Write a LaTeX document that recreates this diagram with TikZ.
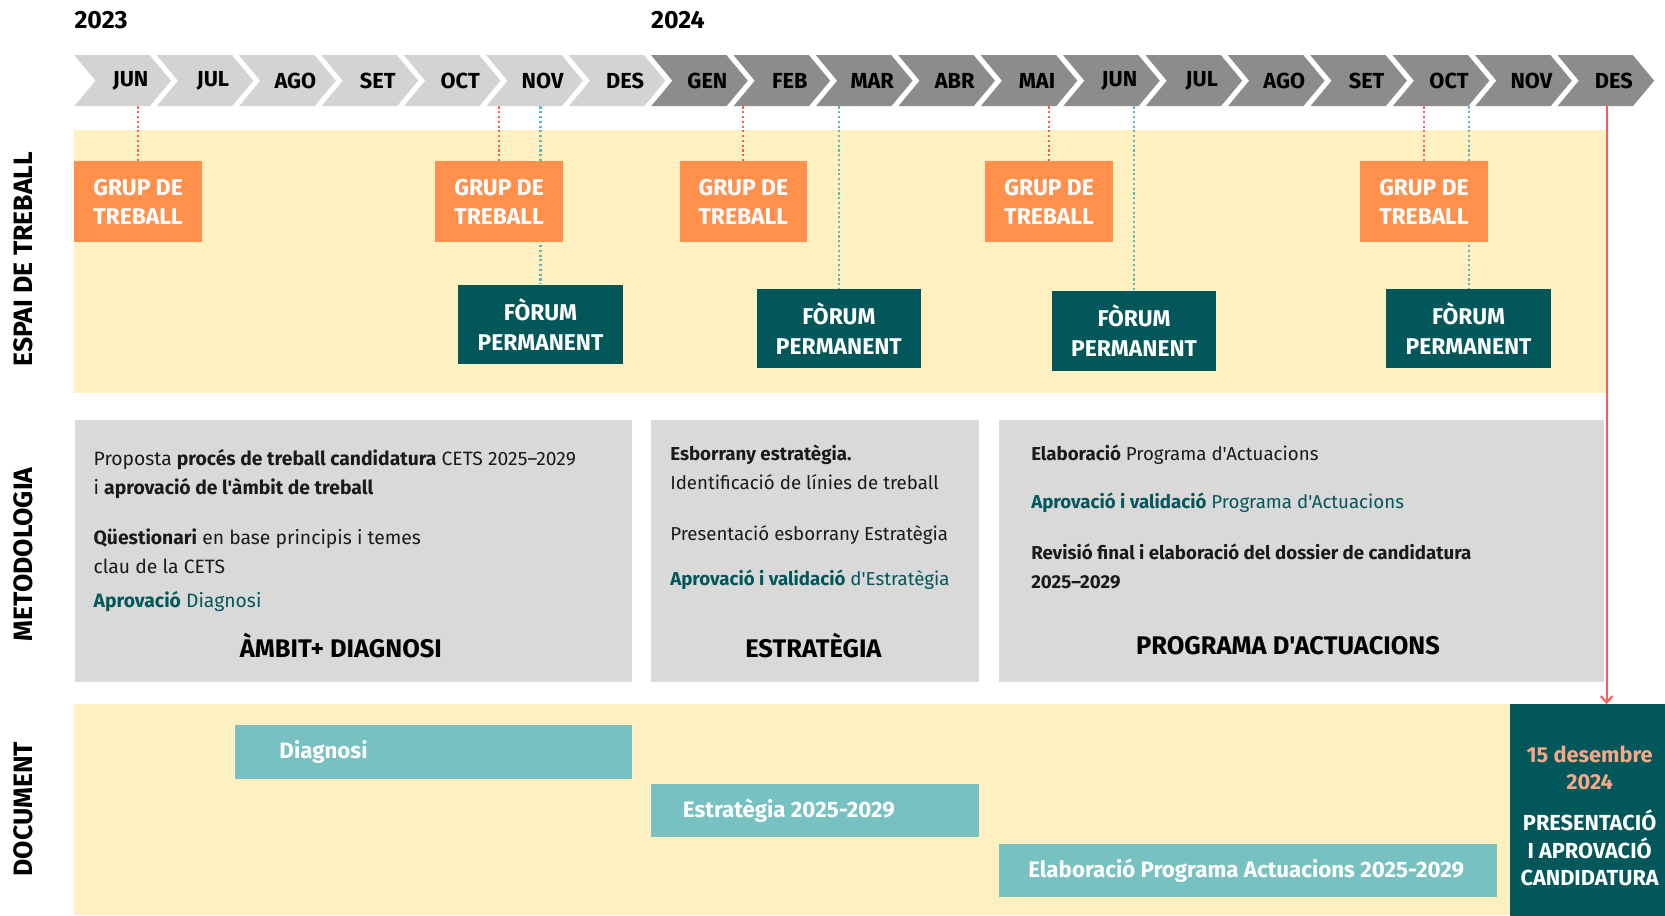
\documentclass[tikz,border=0pt]{standalone}
\usepackage{fontspec}
\setmainfont{Fira Sans}[Ligatures=TeXOff]
\usetikzlibrary{arrows.meta}
\definecolor{chevlight}{HTML}{D3D3D3}
\definecolor{chevdark}{HTML}{8C8C8C}
\definecolor{orangec}{HTML}{FF914D}
\definecolor{tealdark}{HTML}{02575A}
\definecolor{teallight}{HTML}{78C1C3}
\definecolor{yellowc}{HTML}{FEF0C0}
\definecolor{greybox}{HTML}{D9D9D9}
\definecolor{redc}{HTML}{FF5A5A}
\definecolor{tealdot}{HTML}{5CB8BE}
\definecolor{salmon}{HTML}{F7A887}
\definecolor{textdark}{HTML}{1A1A1A}
\pgfdeclarelayer{back}
\pgfdeclarelayer{lines}
\pgfsetlayers{back,lines,main}
\begin{document}
\begin{tikzpicture}[x=1pt,y=-1pt,
  year/.style={font=\fontsize{23.5}{24}\selectfont\bfseries, text=black, inner sep=0, anchor=west},
  month/.style={font=\fontsize{20.5}{21}\selectfont\bfseries, text=black, minimum height=48pt, inner sep=0},
  grup/.style={fill=orangec, text=white, font=\fontsize{21.5}{27}\selectfont\bfseries, minimum width=120pt, minimum height=76pt, align=center, inner sep=0},
  forum/.style={fill=tealdark, text=white, font=\fontsize{21.5}{28}\selectfont\bfseries, minimum width=155pt, minimum height=75pt, align=center, inner sep=0},
  metbox/.style={fill=greybox, anchor=north west, minimum height=247pt, inner sep=0},
  body/.style={anchor=base west, font=\fontsize{17.6}{20}\selectfont, text=textdark, inner sep=0},
  bodyA/.style={body, font=\fontsize{18.2}{20}\selectfont},
  tbody/.style={body, text=tealdark},
  mtitle/.style={font=\fontsize{24}{25}\selectfont\bfseries, text=black, inner sep=0},
  docbox/.style={fill=teallight, anchor=north west, minimum height=50pt, inner sep=0},
  doctext/.style={font=\fontsize{21}{22}\selectfont\bfseries, text=white, inner sep=0},
  side/.style={rotate=90, font=\fontsize{25}{26}\selectfont\bfseries, text=black, inner sep=0},
  fintext/.style={font=\fontsize{20.5}{26}\selectfont\bfseries, align=center, inner sep=0},
  reddot/.style={draw=redc, line width=2pt, dash pattern=on 2pt off 2.5pt},
  tdot/.style={draw=tealdot, line width=2pt, dash pattern=on 2pt off 2.5pt},
  redline/.style={draw=redc, line width=2pt, -{Straight Barb[length=6pt,width=11pt,line width=2pt]}}
]
\useasboundingbox (0,0) rectangle (1568,862);

% years
\node[year] (y23) at (70,19) {2023};
\node[year] (y24) at (613,19) {2024};

% chevrons
\foreach \m [count=\i from 0] in {JUN,JUL,AGO,SET,OCT,NOV,DES,GEN,FEB,MAR,ABR,MAI,JUN,JUL,AGO,SET,OCT,NOV,DES}{
  \pgfmathsetmacro{\L}{70+77.6*\i}
  \ifnum\i<7 \def\cc{chevlight}\else\def\cc{chevdark}\fi
  \fill[\cc] (\L,52) -- ++(71,0) -- ++(20,24) -- ++(-20,24) -- ++(-71,0) -- ++(20,-24) -- cycle;
  \node[month] (m\i) at (\L+53,76) {\m};
}

% bands
\begin{pgfonlayer}{back}
\fill[yellowc] (70,122) rectangle (1512,370);
\fill[yellowc] (70,663) rectangle (1422,862);
\end{pgfonlayer}

% side labels
\node[side] (s1) at (22,244) {ESPAI DE TREBALL};
\node[side] (s2) at (22,522) {METODOLOGIA};
\node[side] (s3) at (22,762) {DOCUMENT};

% grup de treball
\node[grup] (g1) at (130,190) {GRUP DE\\TREBALL};
\node[grup] (g2) at (470,190) {GRUP DE\\TREBALL};
\node[grup] (g3) at (700,190) {GRUP DE\\TREBALL};
\node[grup] (g4) at (988,190) {GRUP DE\\TREBALL};
\node[grup] (g5) at (1341,190) {GRUP DE\\TREBALL};

% forum permanent
\node[forum] (f1) at (509,305.5) {FÒRUM\\PERMANENT};
\node[forum] (f2) at (790,309.5) {FÒRUM\\PERMANENT};
\node[forum] (f3) at (1068,311.5) {FÒRUM\\PERMANENT};
\node[forum] (f4) at (1383,309.5) {FÒRUM\\PERMANENT};

% connectors
\begin{pgfonlayer}{lines}
\draw[reddot] (g1.north |- m0.south) -- (g1.north);
\draw[reddot] (g2.north |- m4.south) -- (g2.north);
\draw[reddot] (g3.north |- m7.south) -- (g3.north);
\draw[reddot] (g4.north |- m11.south) -- (g4.north);
\draw[reddot] (g5.north |- m16.south) -- (g5.north);
\draw[tdot] (f1.north |- m5.south) -- (f1.north);
\draw[tdot] (f2.north |- m9.south) -- (f2.north);
\draw[tdot] (f3.north |- m12.south) -- (f3.north);
\draw[tdot] (f4.north |- m16.south) -- (f4.north);
\end{pgfonlayer}

% metodologia
\node[metbox, minimum width=525pt] (mb1) at (70,395) {};
\node[metbox, minimum width=309pt] (mb2) at (613,395) {};
\node[metbox, minimum width=569pt] (mb3) at (941,395) {};

\node[bodyA] (t11) at (88,438) {Proposta \textbf{procés de treball candidatura} CETS 2025–2029};
\node[bodyA] (t12) at (88,466) {i \textbf{aprovació de l'àmbit de treball}};
\node[bodyA] (t13) at (88,513) {\textbf{Qüestionari} en base principis i temes};
\node[bodyA] (t14) at (88,540) {clau de la CETS};
\node[bodyA, text=tealdark] (t15) at (88,572) {\textbf{Aprovació} Diagnosi};
\node[mtitle] (mt1) at (321,608) {ÀMBIT+ DIAGNOSI};

\node[body] (t21) at (631,434) {\textbf{Esborrany estratègia.}};
\node[body] (t22) at (631,461) {Identificació de línies de treball};
\node[body] (t23) at (631,509) {Presentació esborrany Estratègia};
\node[tbody] (t24) at (631,551) {\textbf{Aprovació i validació} d'Estratègia};
\node[mtitle] (mt2) at (766,608) {ESTRATÈGIA};

\node[body] (t31) at (971,434) {\textbf{Elaboració} Programa d'Actuacions};
\node[tbody] (t32) at (971,479) {\textbf{Aprovació i validació} Programa d'Actuacions};
\node[body] (t33) at (971,527) {\textbf{Revisió final i elaboració del dossier de candidatura}};
\node[body] (t34) at (971,554) {\textbf{2025–2029}};
\node[mtitle] (mt3) at (1213,608) {PROGRAMA D'ACTUACIONS};

% document
\node[docbox, minimum width=374pt] (d1) at (221,683) {};
\node[doctext, anchor=west] (d1t) at ([xshift=42pt]d1.west) {Diagnosi};
\node[docbox, minimum width=309pt] (d2) at (613,738) {};
\node[doctext, anchor=west] (d2t) at ([xshift=30pt]d2.west) {Estratègia 2025-2029};
\node[docbox, minimum width=469pt] (d3) at (941,795) {};
\node[doctext] (d3t) at ([xshift=-2pt]d3.center) {Elaboració Programa Actuacions 2025-2029};

% final
\node[fill=tealdark, anchor=north west, minimum width=146pt, minimum height=199pt, inner sep=0] (fin) at (1422,663) {};
\node[fintext, text=salmon] (fin1) at (1497,723) {15 desembre\\2024};
\node[fintext, text=white] (fin2) at (1497,798.5) {PRESENTACIÓ\\I APROVACIÓ\\CANDIDATURA};

% red deadline line
\coordinate (rtop) at (1513,100);
\begin{pgfonlayer}{lines}
\draw[redline] (rtop) -- (rtop |- fin.north);
\end{pgfonlayer}
\end{tikzpicture}
\end{document}
